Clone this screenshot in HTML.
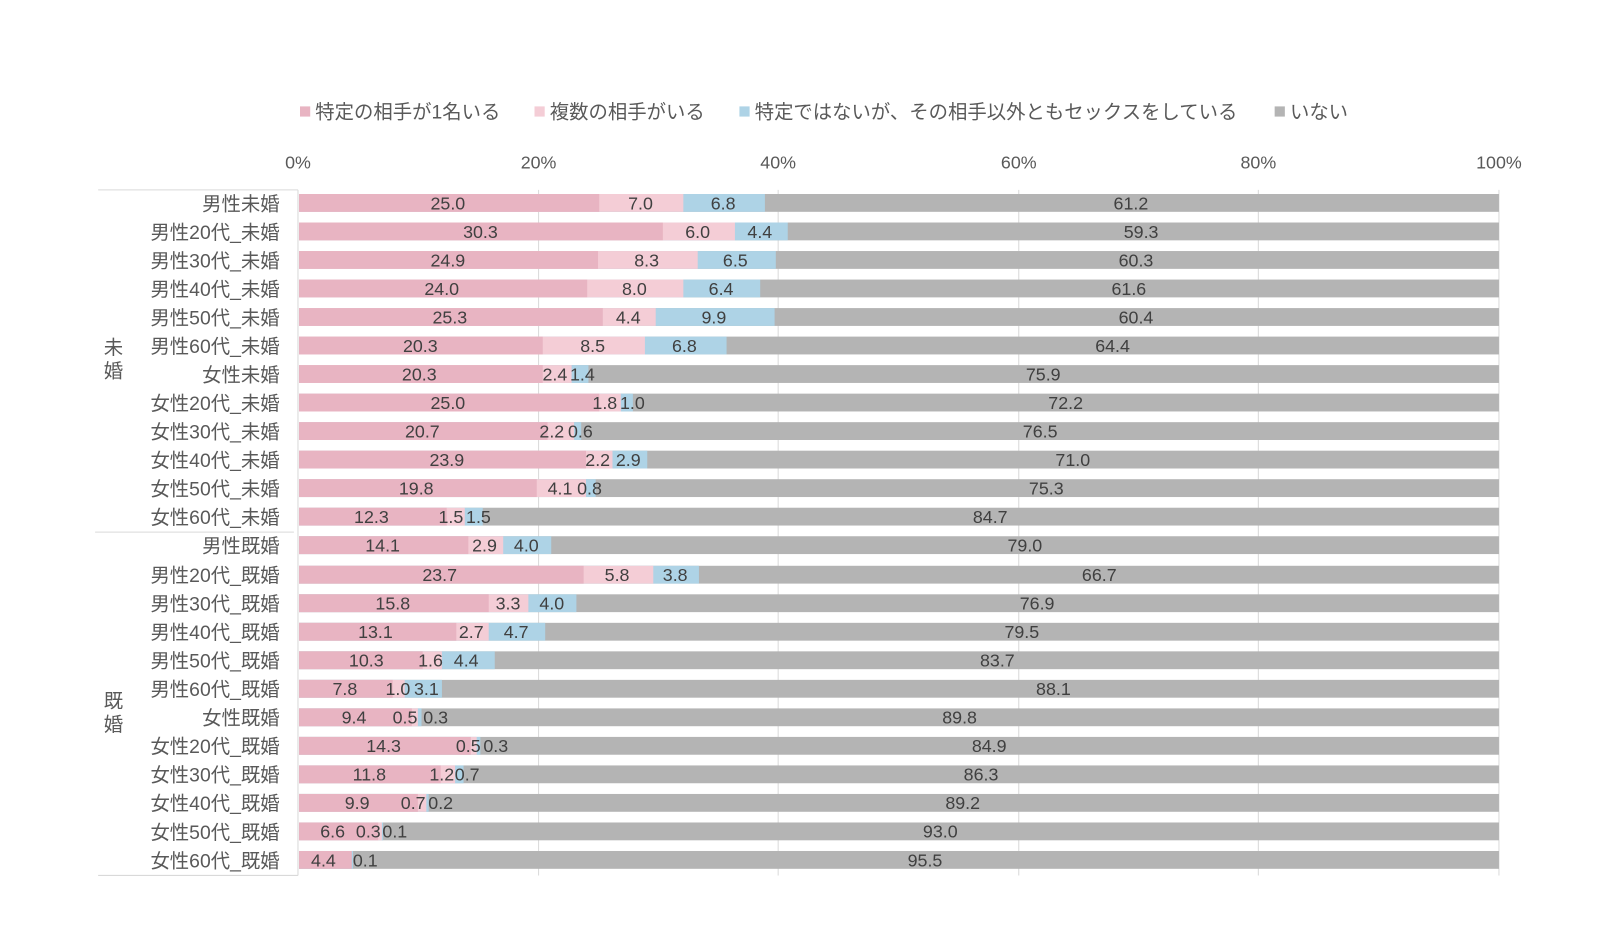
<!DOCTYPE html>
<html><head><meta charset="utf-8"><style>
body{margin:0;background:#fff;}
svg text{font-family:"Liberation Sans","Noto Sans CJK JP",sans-serif;}
</style></head><body>
<svg width="1600" height="938" xmlns="http://www.w3.org/2000/svg">
<g transform="translate(1.3,2.5) scale(1.0195,1.0186)">
<g font-size="19" fill="#595959">
<rect x="293" y="102" width="10" height="10" fill="#e8b4c2"/><text x="308" y="114">特定の相手が1名いる</text>
<rect x="523" y="102" width="10" height="10" fill="#f4cdd6"/><text x="538" y="114">複数の相手がいる</text>
<rect x="724" y="102" width="10" height="10" fill="#aed3e6"/><text x="739" y="114">特定ではないが、その相手以外ともセックスをしている</text>
<rect x="1249" y="102" width="10" height="10" fill="#b4b4b4"/><text x="1264" y="114">いない</text>
</g>
<g font-size="17.5" fill="#595959" text-anchor="middle">
<text x="291" y="163">0%</text><text x="527" y="163">20%</text><text x="762" y="163">40%</text><text x="998" y="163">60%</text><text x="1233" y="163">80%</text><text x="1469" y="163">100%</text>
</g>
<g stroke="#d9d9d9" stroke-width="1">
<line x1="527" y1="184" x2="527" y2="857"/><line x1="762" y1="184" x2="762" y2="857"/><line x1="998" y1="184" x2="998" y2="857"/><line x1="1233" y1="184" x2="1233" y2="857"/><line x1="1469" y1="184" x2="1469" y2="857"/>
<line x1="291" y1="184" x2="291" y2="857"/>
<line x1="95" y1="184" x2="291" y2="184"/><line x1="92" y1="520" x2="287" y2="520"/><line x1="95" y1="857" x2="291" y2="857"/>
</g>
<g font-size="19" fill="#595959">
<text x="110" y="345" text-anchor="middle">未</text><text x="110" y="368" text-anchor="middle">婚</text>
<text x="110" y="692" text-anchor="middle">既</text><text x="110" y="715" text-anchor="middle">婚</text>
</g>
<g font-size="19" fill="#595959" text-anchor="end">
<text x="273" y="204">男性未婚</text>
<text x="273" y="232">男性20代_未婚</text>
<text x="273" y="260">男性30代_未婚</text>
<text x="273" y="288">男性40代_未婚</text>
<text x="273" y="316">男性50代_未婚</text>
<text x="273" y="344">男性60代_未婚</text>
<text x="273" y="372">女性未婚</text>
<text x="273" y="400">女性20代_未婚</text>
<text x="273" y="428">女性30代_未婚</text>
<text x="273" y="456">女性40代_未婚</text>
<text x="273" y="484">女性50代_未婚</text>
<text x="273" y="512">女性60代_未婚</text>
<text x="273" y="540">男性既婚</text>
<text x="273" y="569">男性20代_既婚</text>
<text x="273" y="597">男性30代_既婚</text>
<text x="273" y="625">男性40代_既婚</text>
<text x="273" y="653">男性50代_既婚</text>
<text x="273" y="681">男性60代_既婚</text>
<text x="273" y="709">女性既婚</text>
<text x="273" y="737">女性20代_既婚</text>
<text x="273" y="765">女性30代_既婚</text>
<text x="273" y="793">女性40代_既婚</text>
<text x="273" y="821">女性50代_既婚</text>
<text x="273" y="849">女性60代_既婚</text>
</g>
<g>
<g transform="translate(292,188)"><rect width="1177" height="17.5" fill="#b4b4b4"/><rect width="457" height="17.5" fill="#aed3e6"/><rect width="377" height="17.5" fill="#f4cdd6"/><rect width="294.5" height="17.5" fill="#e8b4c2"/></g>
<g transform="translate(292,216)"><rect width="1177" height="17.5" fill="#b4b4b4"/><rect width="479.4" height="17.5" fill="#aed3e6"/><rect width="427.6" height="17.5" fill="#f4cdd6"/><rect width="356.9" height="17.5" fill="#e8b4c2"/></g>
<g transform="translate(292,244)"><rect width="1177" height="17.5" fill="#b4b4b4"/><rect width="467.7" height="17.5" fill="#aed3e6"/><rect width="391.1" height="17.5" fill="#f4cdd6"/><rect width="293.3" height="17.5" fill="#e8b4c2"/></g>
<g transform="translate(292,272)"><rect width="1177" height="17.5" fill="#b4b4b4"/><rect width="452.4" height="17.5" fill="#aed3e6"/><rect width="377" height="17.5" fill="#f4cdd6"/><rect width="282.7" height="17.5" fill="#e8b4c2"/></g>
<g transform="translate(292,300)"><rect width="1177" height="17.5" fill="#b4b4b4"/><rect width="466.5" height="17.5" fill="#aed3e6"/><rect width="349.9" height="17.5" fill="#f4cdd6"/><rect width="298" height="17.5" fill="#e8b4c2"/></g>
<g transform="translate(292,328)"><rect width="1177" height="17.5" fill="#b4b4b4"/><rect width="419.4" height="17.5" fill="#aed3e6"/><rect width="339.3" height="17.5" fill="#f4cdd6"/><rect width="239.1" height="17.5" fill="#e8b4c2"/></g>
<g transform="translate(292,356)"><rect width="1177" height="17.5" fill="#b4b4b4"/><rect width="283.9" height="17.5" fill="#aed3e6"/><rect width="267.4" height="17.5" fill="#f4cdd6"/><rect width="239.1" height="17.5" fill="#e8b4c2"/></g>
<g transform="translate(292,384)"><rect width="1177" height="17.5" fill="#b4b4b4"/><rect width="327.5" height="17.5" fill="#aed3e6"/><rect width="315.7" height="17.5" fill="#f4cdd6"/><rect width="294.5" height="17.5" fill="#e8b4c2"/></g>
<g transform="translate(292,412)"><rect width="1177" height="17.5" fill="#b4b4b4"/><rect width="276.8" height="17.5" fill="#aed3e6"/><rect width="269.8" height="17.5" fill="#f4cdd6"/><rect width="243.8" height="17.5" fill="#e8b4c2"/></g>
<g transform="translate(292,440)"><rect width="1177" height="17.5" fill="#b4b4b4"/><rect width="341.6" height="17.5" fill="#aed3e6"/><rect width="307.5" height="17.5" fill="#f4cdd6"/><rect width="281.5" height="17.5" fill="#e8b4c2"/></g>
<g transform="translate(292,468)"><rect width="1177" height="17.5" fill="#b4b4b4"/><rect width="291" height="17.5" fill="#aed3e6"/><rect width="281.5" height="17.5" fill="#f4cdd6"/><rect width="233.2" height="17.5" fill="#e8b4c2"/></g>
<g transform="translate(292,496)"><rect width="1177" height="17.5" fill="#b4b4b4"/><rect width="180.2" height="17.5" fill="#aed3e6"/><rect width="162.6" height="17.5" fill="#f4cdd6"/><rect width="144.9" height="17.5" fill="#e8b4c2"/></g>
<g transform="translate(292,524)"><rect width="1177" height="17.5" fill="#b4b4b4"/><rect width="247.4" height="17.5" fill="#aed3e6"/><rect width="200.3" height="17.5" fill="#f4cdd6"/><rect width="166.1" height="17.5" fill="#e8b4c2"/></g>
<g transform="translate(292,553)"><rect width="1177" height="17.5" fill="#b4b4b4"/><rect width="392.3" height="17.5" fill="#aed3e6"/><rect width="347.5" height="17.5" fill="#f4cdd6"/><rect width="279.2" height="17.5" fill="#e8b4c2"/></g>
<g transform="translate(292,581)"><rect width="1177" height="17.5" fill="#b4b4b4"/><rect width="272.1" height="17.5" fill="#aed3e6"/><rect width="225" height="17.5" fill="#f4cdd6"/><rect width="186.1" height="17.5" fill="#e8b4c2"/></g>
<g transform="translate(292,609)"><rect width="1177" height="17.5" fill="#b4b4b4"/><rect width="241.5" height="17.5" fill="#aed3e6"/><rect width="186.1" height="17.5" fill="#f4cdd6"/><rect width="154.3" height="17.5" fill="#e8b4c2"/></g>
<g transform="translate(292,637)"><rect width="1177" height="17.5" fill="#b4b4b4"/><rect width="192" height="17.5" fill="#aed3e6"/><rect width="140.2" height="17.5" fill="#f4cdd6"/><rect width="121.3" height="17.5" fill="#e8b4c2"/></g>
<g transform="translate(292,665)"><rect width="1177" height="17.5" fill="#b4b4b4"/><rect width="140.2" height="17.5" fill="#aed3e6"/><rect width="103.7" height="17.5" fill="#f4cdd6"/><rect width="91.9" height="17.5" fill="#e8b4c2"/></g>
<g transform="translate(292,693)"><rect width="1177" height="17.5" fill="#b4b4b4"/><rect width="120.2" height="17.5" fill="#aed3e6"/><rect width="116.6" height="17.5" fill="#f4cdd6"/><rect width="110.7" height="17.5" fill="#e8b4c2"/></g>
<g transform="translate(292,721)"><rect width="1177" height="17.5" fill="#b4b4b4"/><rect width="177.9" height="17.5" fill="#aed3e6"/><rect width="174.3" height="17.5" fill="#f4cdd6"/><rect width="168.5" height="17.5" fill="#e8b4c2"/></g>
<g transform="translate(292,749)"><rect width="1177" height="17.5" fill="#b4b4b4"/><rect width="161.4" height="17.5" fill="#aed3e6"/><rect width="153.1" height="17.5" fill="#f4cdd6"/><rect width="139" height="17.5" fill="#e8b4c2"/></g>
<g transform="translate(292,777)"><rect width="1177" height="17.5" fill="#b4b4b4"/><rect width="127.2" height="17.5" fill="#aed3e6"/><rect width="124.9" height="17.5" fill="#f4cdd6"/><rect width="116.6" height="17.5" fill="#e8b4c2"/></g>
<g transform="translate(292,805)"><rect width="1177" height="17.5" fill="#b4b4b4"/><rect width="82.5" height="17.5" fill="#aed3e6"/><rect width="81.3" height="17.5" fill="#f4cdd6"/><rect width="77.7" height="17.5" fill="#e8b4c2"/></g>
<g transform="translate(292,833)"><rect width="1177" height="17.5" fill="#b4b4b4"/><rect width="53" height="17.5" fill="#aed3e6"/><rect width="51.8" height="17.5" fill="#e8b4c2"/></g>
</g>
<g font-size="17.5" fill="#404040" text-anchor="middle">
<text x="438" y="203">25.0</text><text x="627" y="203">7.0</text><text x="708" y="203">6.8</text><text x="1108" y="203">61.2</text>
<text x="470" y="231">30.3</text><text x="683" y="231">6.0</text><text x="744" y="231">4.4</text><text x="1118" y="231">59.3</text>
<text x="438" y="259">24.9</text><text x="633" y="259">8.3</text><text x="720" y="259">6.5</text><text x="1113" y="259">60.3</text>
<text x="432" y="287">24.0</text><text x="621" y="287">8.0</text><text x="706" y="287">6.4</text><text x="1106" y="287">61.6</text>
<text x="440" y="315">25.3</text><text x="615" y="315">4.4</text><text x="699" y="315">9.9</text><text x="1113" y="315">60.4</text>
<text x="411" y="343">20.3</text><text x="580" y="343">8.5</text><text x="670" y="343">6.8</text><text x="1090" y="343">64.4</text>
<text x="410" y="371">20.3</text><text x="543" y="371">2.4</text><text x="570" y="371">1.4</text><text x="1022" y="371">75.9</text>
<text x="438" y="399">25.0</text><text x="592" y="399">1.8</text><text x="619" y="399">1.0</text><text x="1044" y="399">72.2</text>
<text x="413" y="427">20.7</text><text x="540" y="427">2.2</text><text x="568" y="427">0.6</text><text x="1019" y="427">76.5</text>
<text x="437" y="455">23.9</text><text x="585" y="455">2.2</text><text x="615" y="455">2.9</text><text x="1051" y="455">71.0</text>
<text x="407" y="483">19.8</text><text x="548" y="483">4.1</text><text x="577" y="483">0.8</text><text x="1025" y="483">75.3</text>
<text x="363" y="511">12.3</text><text x="441" y="511">1.5</text><text x="468" y="511">1.5</text><text x="970" y="511">84.7</text>
<text x="374" y="539">14.1</text><text x="474" y="539">2.9</text><text x="515" y="539">4.0</text><text x="1004" y="539">79.0</text>
<text x="430" y="568">23.7</text><text x="604" y="568">5.8</text><text x="661" y="568">3.8</text><text x="1077" y="568">66.7</text>
<text x="384" y="596">15.8</text><text x="497" y="596">3.3</text><text x="540" y="596">4.0</text><text x="1016" y="596">76.9</text>
<text x="367" y="624">13.1</text><text x="461" y="624">2.7</text><text x="505" y="624">4.7</text><text x="1001" y="624">79.5</text>
<text x="358" y="652">10.3</text><text x="421" y="652">1.6</text><text x="456" y="652">4.4</text><text x="977" y="652">83.7</text>
<text x="337" y="680">7.8</text><text x="389" y="680">1.0</text><text x="417" y="680">3.1</text><text x="1032" y="680">88.1</text>
<text x="346" y="708">9.4</text><text x="396" y="708">0.5</text><text x="426" y="708">0.3</text><text x="940" y="708">89.8</text>
<text x="375" y="736">14.3</text><text x="458" y="736">0.5</text><text x="485" y="736">0.3</text><text x="969" y="736">84.9</text>
<text x="361" y="764">11.8</text><text x="432" y="764">1.2</text><text x="457" y="764">0.7</text><text x="961" y="764">86.3</text>
<text x="349" y="792">9.9</text><text x="404" y="792">0.7</text><text x="431" y="792">0.2</text><text x="943" y="792">89.2</text>
<text x="325" y="820">6.6</text><text x="360" y="820">0.3</text><text x="386" y="820">0.1</text><text x="921" y="820">93.0</text>
<text x="316" y="848">4.4</text><text x="357" y="848">0.1</text><text x="906" y="848">95.5</text>
</g>
</g>
</svg>
</body></html>
